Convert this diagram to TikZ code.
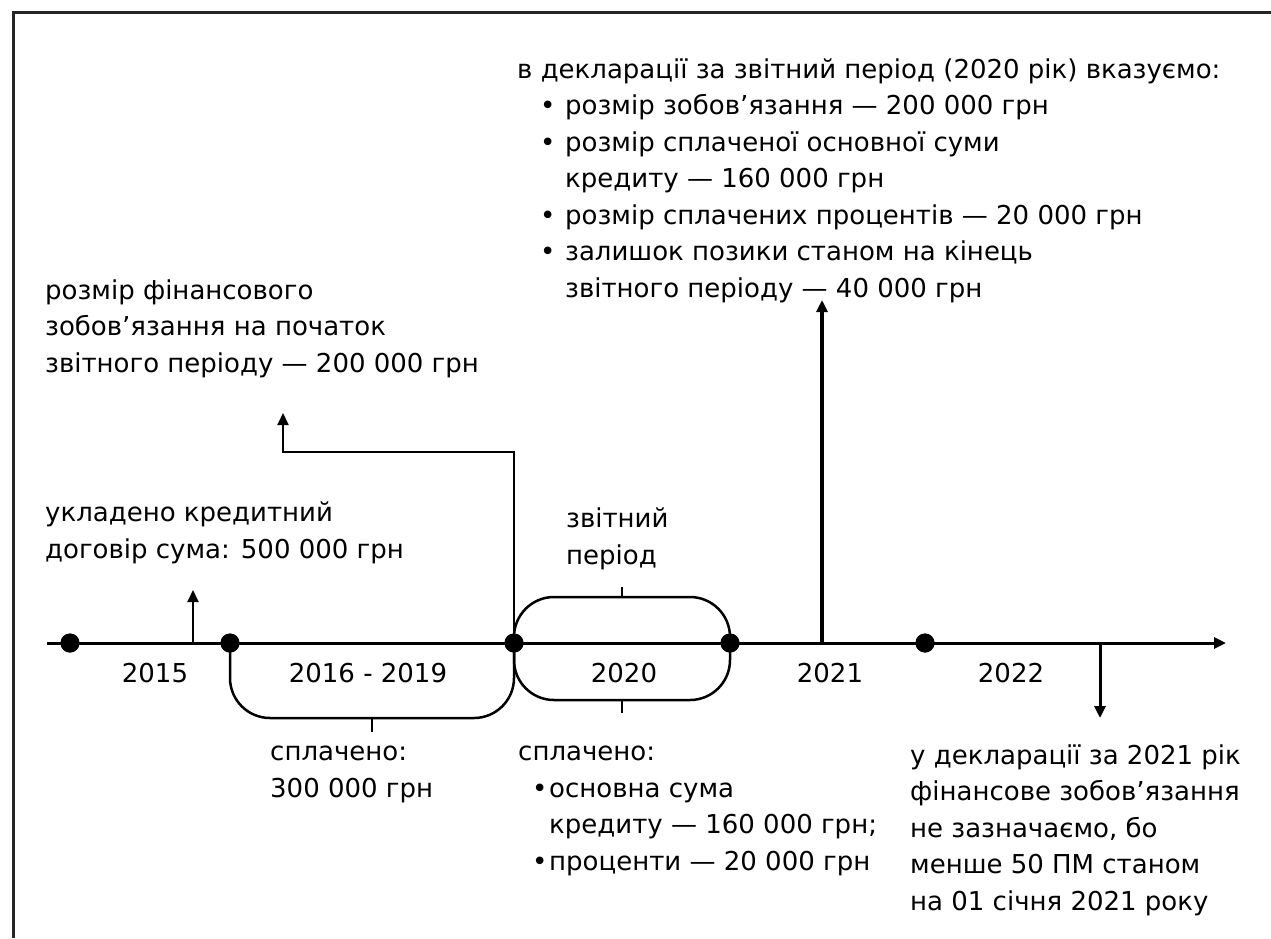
\documentclass[tikz,border=0pt]{standalone}
\usepackage{fontspec}
\setmainfont{DejaVu Sans}
\usetikzlibrary{arrows.meta, positioning}
\newcommand\bul{\makebox[25pt][l]{•}}
\newcommand\bulb{\makebox[17pt][l]{•}}

\begin{document}
\begin{tikzpicture}[x=1pt, y=-1pt,
		txt/.style={anchor=base west, align=left, inner sep=0pt,
			font=\fontsize{26}{36.5}\selectfont},
		yr/.style={anchor=base, inner sep=0pt, font=\fontsize{26}{30}\selectfont},
		dot/.style={circle, fill, inner sep=0pt, minimum size=19pt},
		axis/.style={line width=3pt},
		brace/.style={line width=2.5pt, rounded corners=40pt},
		tip/.style={-{Triangle[length=12pt, width=11pt]}}]
	
	\useasboundingbox (0,0) rectangle (1271,938);
	\draw[line width=3pt, black!85] (13,938) -- (13,12) -- (1271,12);
	
	% time axis
	\coordinate (t0) at (47,643);
	\coordinate (t1) at (1226,643);
	\coordinate (c15) at (193,643);
	\coordinate (c21) at (822,643);
	\coordinate (c22) at (1100,643);
	\node[dot] (d1) at (70,643) {};
	\node[dot] (d2) at (230,643) {};
	\node[dot] (d3) at (514,643) {};
	\node[dot] (d4) at (730,643) {};
	\node[dot] (d5) at (925,643) {};
	
	\coordinate (mA) at (372,718);
	\coordinate (mB) at (622,700);
	\coordinate (mC) at (622,597);
	\draw[brace] (d2.center) |- (mA) -| (d3.center);
	\draw[brace] (d3.center) |- (mB) -| (d4.center);
	\draw[brace] (d3.center) |- (mC) -| (d4.center);
	\draw[line width=2pt] (mA) -- ++(0,14);
	\draw[line width=2pt] (mB) -- ++(0,13);
	\draw[line width=2pt] (mC) -- ++(0,-10);
	
	\draw[axis, tip] (t0) -- (t1);
	\foreach \d in {d1,d2,d3,d4,d5} \node[dot] at (\d) {};
	
	\node[yr] (y15) at (155,682) {2015};
	\node[yr] (y16) at (368,682) {2016 - 2019};
	\node[yr] (y20) at (624,682) {2020};
	\node[yr] (y21) at (830,682) {2021};
	\node[yr] (y22) at (1011,682) {2022};
	
	% labels (anchored at the baseline of the last line)
	\node[txt] (decl) at (517,297) {в декларації за звітний період (2020 рік) вказуємо:\\
		\hspace*{23pt}\bul розмір зобов'язання — 200 000 грн\\
		\hspace*{23pt}\bul розмір сплаченої основної суми\\
		\hspace*{48pt}кредиту — 160 000 грн\\
		\hspace*{23pt}\bul розмір сплачених процентів — 20 000 грн\\
		\hspace*{23pt}\bul залишок позики станом на кінець\\
		\hspace*{48pt}звітного періоду — 40 000 грн};
	\node[txt] (start) at (45,372) {розмір фінансового\\зобов'язання на початок\\звітного періоду — 200 000 грн};
	\node[txt] (loan) at (45,558) {укладено кредитний\\договір сума: 500 000 грн};
	\node[txt] (rep) at (566,564) {звітний\\період};
	\node[txt] (paidA) at (270,797) {сплачено:\\300 000 грн};
	\node[txt] (paidB) at (518,870) {сплачено:\\
		\hspace*{14pt}\bulb основна сума\\
		\hspace*{31pt}кредиту — 160 000 грн;\\
		\hspace*{14pt}\bulb проценти — 20 000 грн};
	\node[txt] (next) at (910,910) {у декларації за 2021 рік\\фінансове зобов'язання\\не зазначаємо, бо\\менше 50 ПМ станом\\на 01 січня 2021 року};
	
	% arrows
	\coordinate (a15) at (193,590);
	\coordinate (a21) at (822,300);
	\coordinate (a22) at (1100,718);
	\coordinate (k1) at (514,452);
	\coordinate (k2) at (283,413);
	\draw[line width=2pt, tip] (c15) -- (a15);
	\draw[line width=3.5pt, tip] (c21) -- (a21);
	\draw[line width=3pt, tip] (c22) -- (a22);
	\draw[line width=2pt, tip] (d3.center) -- (k1) -| (k2);
\end{tikzpicture}
\end{document}
